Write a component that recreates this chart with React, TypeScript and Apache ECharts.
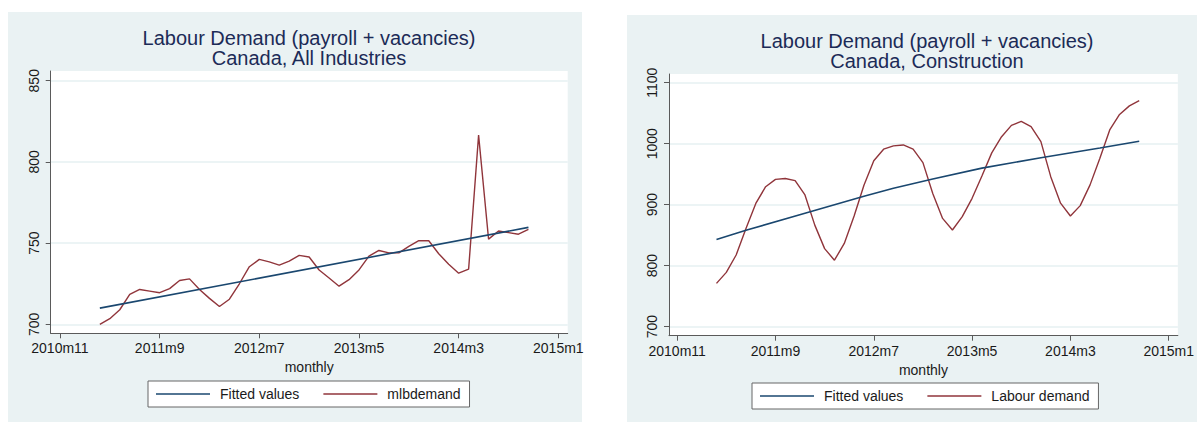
import React, { useEffect, useRef } from "react";
import * as echarts from "echarts";

// Monthly periods (Stata-style labels)
const periods = [
  "2011m3", "2011m4", "2011m5", "2011m6", "2011m7", "2011m8", "2011m9", "2011m10", "2011m11", "2011m12",
  "2012m1", "2012m2", "2012m3", "2012m4", "2012m5", "2012m6", "2012m7", "2012m8", "2012m9", "2012m10", "2012m11", "2012m12",
  "2013m1", "2013m2", "2013m3", "2013m4", "2013m5", "2013m6", "2013m7", "2013m8", "2013m9", "2013m10", "2013m11", "2013m12",
  "2014m1", "2014m2", "2014m3", "2014m4", "2014m5", "2014m6", "2014m7", "2014m8", "2014m9", "2014m10",
];

// Canada, All Industries (mlbdemand)
const allIndustries = [
  700, 703.5, 709, 718.5, 721.5, 720.5, 719.5, 722, 727, 728,
  721.5, 716, 711, 715.5, 725, 735.5, 740, 738.5, 736.5, 739, 742.5, 741.5,
  733.5, 728.5, 723.5, 727.5, 733.5, 742, 745.5, 744, 744, 748, 751.5, 751.5,
  743.5, 737, 731.5, 734, 816.5, 752.5, 757.5, 756.5, 755.5, 758.5,
];

// Canada, Construction (Labour demand)
const construction = [
  771, 789, 817.5, 861, 902, 929.5, 941.5, 943, 939.5, 916,
  866.5, 828, 809, 836.5, 881.5, 932, 972, 991, 996.5, 998, 991, 969,
  918.5, 877.5, 858.5, 880.5, 910.5, 947, 985, 1011.5, 1030, 1036.5, 1028, 1003.5,
  946, 902.5, 881.5, 898.5, 932.5, 976, 1022.5, 1048, 1062, 1070.5,
];

// Fitted values (read at a few months)
const fittedAllPeriods = ["2011m3", "2014m10"];
const fittedAllValues = [710, 759.7];
const fittedConsPeriods = ["2011m3", "2011m6", "2011m12", "2012m6", "2012m9", "2013m1", "2013m6", "2013m12", "2014m6", "2014m10"];
const fittedConsValues = [843, 858, 886, 914, 927, 942, 960, 977, 993, 1004];

const xTickLabels = ["2010m11", "2011m9", "2012m7", "2013m5", "2014m3", "2015m1"];
const yTicksAll = [700, 750, 800, 850];
const yTicksCons = [700, 800, 900, 1000, 1100];

const monthOffset = (p: string) => {
  const [y, m] = p.split("m").map(Number);
  return (y - 2010) * 12 + m - 11;
};

const FONT = "'Liberation Sans', Arial, Helvetica, sans-serif";
const PANEL = "#eaf2f3";
const NAVY = "#1a476f";
const RED = "#90353b";
const TITLE = "#1c2b57";
const TEXT = "#1a1a1a";
const AXIS = "#5a5a5a";

const xTickVals = xTickLabels.map(monthOffset);

function makeX(gridIndex: number, min: number, max: number) {
  return {
    type: "value",
    gridIndex,
    min,
    max,
    name: "monthly",
    nameLocation: "middle",
    nameGap: 25,
    nameTextStyle: { fontSize: 14, color: TEXT, fontFamily: FONT },
    axisLine: { show: true, onZero: false, lineStyle: { color: AXIS, width: 1 } },
    axisTick: { show: true, length: 5, customValues: xTickVals, lineStyle: { color: AXIS } },
    axisLabel: {
      customValues: xTickVals,
      formatter: (v: number) => {
        const i = xTickVals.indexOf(Math.round(v));
        return i >= 0 ? xTickLabels[i] : "";
      },
      fontSize: 14,
      color: TEXT,
      margin: 8,
      fontFamily: FONT,
    },
    splitLine: { show: false },
  };
}

function makeY(gridIndex: number, min: number, max: number, ticks: number[]) {
  return {
    type: "value",
    gridIndex,
    min,
    max,
    axisLine: { show: true, onZero: false, lineStyle: { color: AXIS, width: 1 } },
    axisTick: { show: true, length: 5, customValues: ticks, lineStyle: { color: AXIS } },
    axisLabel: {
      customValues: ticks,
      formatter: (v: number) => String(Math.round(v)),
      rotate: 90,
      fontSize: 14,
      color: TEXT,
      margin: 10,
      fontFamily: FONT,
    },
    splitLine: { show: true, lineStyle: { color: "#e6f0f2", width: 1.5 } },
  };
}

const legendBase = {
  backgroundColor: "#ffffff",
  borderColor: "#666666",
  borderWidth: 1,
  borderRadius: 0,
  padding: [6, 9, 6, 8],
  icon: "rect",
  itemWidth: 54,
  itemHeight: 1.6,
  itemGap: 24,
  orient: "horizontal",
  textStyle: { fontSize: 14, color: TEXT, fontFamily: FONT, padding: [0, 0, 0, 5] },
};

export default function App() {
  const ref = useRef<HTMLDivElement>(null);
  useEffect(() => {
    if (!ref.current) return;
    const chart = echarts.init(ref.current, undefined, { renderer: "svg" });
    const option: any = {
      animation: false,
      backgroundColor: "#ffffff",
      graphic: [
        { type: "rect", z: -10, silent: true, shape: { x: 8, y: 12, width: 574, height: 412 }, style: { fill: PANEL } },
        { type: "rect", z: -10, silent: true, shape: { x: 627, y: 15, width: 572, height: 409 }, style: { fill: PANEL } },
      ],
      title: [
        {
          text: "Labour Demand (payroll + vacancies)\nCanada, All Industries",
          left: 309,
          top: 28,
          padding: 0,
          textAlign: "center",
          textStyle: { fontSize: 20, fontWeight: "normal", color: TITLE, lineHeight: 20, fontFamily: FONT },
        },
        {
          text: "Labour Demand (payroll + vacancies)\nCanada, Construction",
          left: 927,
          top: 31,
          padding: 0,
          textAlign: "center",
          textStyle: { fontSize: 20, fontWeight: "normal", color: TITLE, lineHeight: 20, fontFamily: FONT },
        },
      ],
      grid: [
        { left: 50.7, top: 71, width: 517, height: 262.3, show: true, backgroundColor: "#ffffff", borderWidth: 0 },
        { left: 669, top: 74, width: 516, height: 261.7, show: true, backgroundColor: "#ffffff", borderWidth: 0 },
      ],
      xAxis: [makeX(0, -0.93, 50.94), makeX(1, -0.83, 50.93)],
      yAxis: [makeY(0, 694.5, 856, yTicksAll), makeY(1, 685.2, 1114.3, yTicksCons)],
      legend: [
        { ...legendBase, left: 148, top: 381, data: ["Fitted values", "mlbdemand"] },
        { ...legendBase, left: 752, top: 383, data: ["Fitted values", "Labour demand"] },
      ],
      series: [
        {
          name: "Fitted values",
          type: "line",
          xAxisIndex: 0,
          yAxisIndex: 0,
          symbol: "none",
          color: NAVY,
          lineStyle: { color: NAVY, width: 1.6 },
          data: fittedAllPeriods.map((p, i) => [monthOffset(p), fittedAllValues[i]]),
          z: 3,
        },
        {
          name: "mlbdemand",
          type: "line",
          xAxisIndex: 0,
          yAxisIndex: 0,
          symbol: "none",
          color: RED,
          lineStyle: { color: RED, width: 1.4 },
          data: periods.map((p, i) => [monthOffset(p), allIndustries[i]]),
          z: 2,
        },
        {
          name: "Fitted values",
          type: "line",
          xAxisIndex: 1,
          yAxisIndex: 1,
          symbol: "none",
          color: NAVY,
          lineStyle: { color: NAVY, width: 1.6 },
          data: fittedConsPeriods.map((p, i) => [monthOffset(p), fittedConsValues[i]]),
          z: 3,
        },
        {
          name: "Labour demand",
          type: "line",
          xAxisIndex: 1,
          yAxisIndex: 1,
          symbol: "none",
          color: RED,
          lineStyle: { color: RED, width: 1.4 },
          data: periods.map((p, i) => [monthOffset(p), construction[i]]),
          z: 2,
        },
      ],
    };
    chart.setOption(option);
    return () => chart.dispose();
  }, []);
  return <div ref={ref} style={{ position: "absolute", left: 0, top: 0, width: 1197, height: 422 }} />;
}
